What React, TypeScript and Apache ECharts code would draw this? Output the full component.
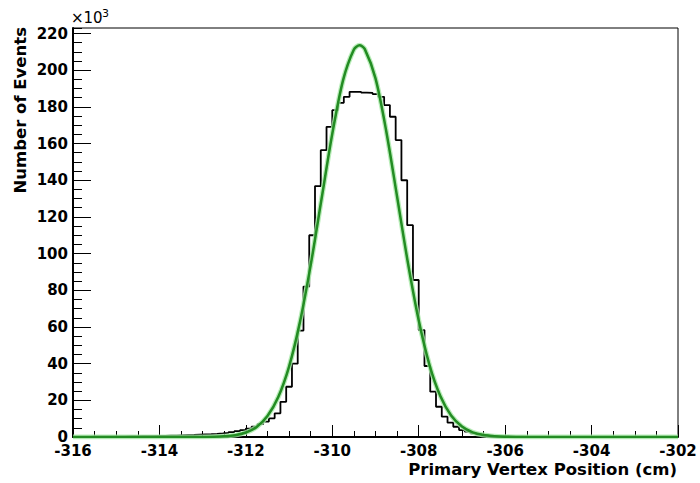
import React, { useEffect, useRef } from "react";
import * as echarts from "echarts";

// Axis ranges
const X_MIN = -316;
const X_MAX = -302;
const Y_MAX = 223; // in thousands of events

// Histogram: bins of 2/15 cm starting at -316 (values in thousands of events)
const binStart = -316;
const binWidth = 2 / 15;
const histCountsK = [
  0.1, 0.1, 0.1, 0.15, 0.15, 0.2, 0.2, 0.25, 0.25, 0.3,
  0.35, 0.4, 0.45, 0.5, 0.55, 0.6, 0.7, 0.8, 0.9, 1.0,
  1.1, 1.25, 1.4, 1.55, 1.75, 2.0, 2.3, 2.7, 3.2, 3.8,
  4.6, 5.6, 7.0, 8.4, 10.2, 12.9, 19.2, 27.4, 40.0, 58.0,
  82.0, 110.0, 136.8, 156.4, 169.1, 178.2, 182.2, 185.5, 188.2, 188.2,
  187.8, 187.6, 187.0, 185.5, 181.0, 174.6, 161.9, 140.0, 115.5, 85.6,
  58.3, 38.7, 24.7, 16.5, 11.1, 7.8, 5.6, 3.8, 2.9, 2.0,
  1.4, 1.0, 0.7, 0.5, 0.35, 0.25, 0.2, 0.15, 0.1, 0.1,
  0.05, 0.05, 0.05, 0.05, 0.05, 0.05, 0.05, 0.05, 0.05, 0.05,
  0.05, 0.05, 0.05, 0, 0, 0, 0, 0, 0, 0,
  0, 0, 0, 0, 0,
];

// Gaussian fit curve (x in cm, y in thousands)
const fitX = [
  -316, -315, -314, -313.5, -313, -312.75, -312.5, -312.25, -312, -311.75,
  -311.5, -311.25, -311, -310.75, -310.5, -310.25, -310, -309.75, -309.5, -309.37,
  -309.25, -309, -308.75, -308.5, -308.25, -308, -307.75, -307.5, -307.25, -307,
  -306.75, -306.5, -306.25, -306, -305.75, -305, -304, -302,
];
const fitY = [
  0, 0, 0, 0.01, 0.04, 0.13, 0.38, 1.01, 2.45, 5.5,
  11.4, 21.8, 38.4, 62.5, 93.7, 129.6, 165.3, 194.6, 211.3, 213.6,
  211.6, 195.5, 166.6, 131.0, 95.0, 63.6, 39.2, 22.3, 11.7, 5.7,
  2.54, 1.05, 0.4, 0.14, 0.04, 0, 0, 0,
];

const xTitle = "Primary Vertex Position (cm)";
const yTitle = "Number of Events";

const FONT = "DejaVu Sans";

export default function App() {
  const ref = useRef<HTMLDivElement>(null);

  useEffect(() => {
    document.body.style.margin = "0";
    if (!ref.current) return;
    const chart = echarts.init(ref.current, undefined, { renderer: "svg" });

    const histData: [number, number][] = histCountsK.map((v, i) => [
      binStart + i * binWidth,
      v,
    ]);
    histData.push([X_MAX, histCountsK[histCountsK.length - 1]]);
    const fitData = fitX.map((x, i) => [x, fitY[i]]);

    const grid = { left: 73, right: 22, top: 28, bottom: 46 };

    chart.setOption({
      animation: false,
      backgroundColor: "#ffffff",
      grid: {
        ...grid,
        show: true,
        borderColor: "#000",
        borderWidth: 1,
        backgroundColor: "transparent",
      },
      xAxis: [
        {
          type: "value",
          min: X_MIN,
          max: X_MAX,
          interval: 2,
          axisLine: { show: true, onZero: false, lineStyle: { color: "#000", width: 2 } },
          axisTick: { show: true, inside: true, length: 12, lineStyle: { color: "#000", width: 1 } },
          minorTick: { show: true, splitNumber: 4, length: 6, lineStyle: { color: "#000", width: 1 } },
          splitLine: { show: false },
          axisLabel: {
            color: "#000",
            fontFamily: FONT,
            fontWeight: "bold",
            fontSize: 15,
            margin: 6,
          },
        },
      ],
      yAxis: [
        {
          type: "value",
          min: 0,
          max: Y_MAX,
          interval: 20,
          axisLine: { show: true, onZero: false, lineStyle: { color: "#000", width: 2 } },
          axisTick: { show: true, inside: true, length: 18, lineStyle: { color: "#000", width: 1 } },
          splitLine: { show: false },
          axisLabel: {
            color: "#000",
            fontFamily: FONT,
            fontWeight: "bold",
            fontSize: 15,
            margin: 5,
            showMaxLabel: false,
          },
        },
        {
          type: "value",
          position: "left",
          min: 0,
          max: Y_MAX,
          interval: 5,
          axisLine: { show: false },
          axisTick: { show: true, inside: true, length: 9, lineStyle: { color: "#000", width: 1 } },
          splitLine: { show: false },
          axisLabel: { show: false },
        },
      ],
      series: [
        {
          type: "line",
          name: "histogram",
          data: histData,
          step: "end",
          showSymbol: false,
          symbol: "none",
          lineStyle: { color: "#000", width: 1.8 },
          z: 2,
        },
        {
          type: "line",
          name: "fit-glow",
          data: fitData,
          smooth: 0.3,
          showSymbol: false,
          symbol: "none",
          lineStyle: { color: "#a8e8a8", width: 5, opacity: 0.8 },
          z: 3,
        },
        {
          type: "line",
          name: "fit",
          data: fitData,
          smooth: 0.3,
          showSymbol: false,
          symbol: "none",
          lineStyle: { color: "#238c23", width: 2.5 },
          z: 4,
        },
      ],
      graphic: [
        {
          type: "text",
          x: 20,
          y: 27,
          rotation: Math.PI / 2,
          style: {
            text: yTitle,
            font: `bold 16.5px "${FONT}"`,
            fill: "#000",
            align: "right",
            verticalAlign: "middle",
          },
        },
        {
          type: "text",
          x: 677,
          y: 469,
          style: {
            text: xTitle,
            font: `bold 16.5px "${FONT}"`,
            fill: "#000",
            align: "right",
            verticalAlign: "middle",
          },
        },
        {
          type: "text",
          x: 71,
          y: 18,
          style: {
            text: "×10",
            font: `15px "${FONT}"`,
            fill: "#000",
            align: "left",
            verticalAlign: "middle",
          },
        },
        {
          type: "text",
          x: 102,
          y: 13,
          style: {
            text: "3",
            font: `11px "${FONT}"`,
            fill: "#000",
            align: "left",
            verticalAlign: "middle",
          },
        },
      ],
    });

    return () => chart.dispose();
  }, []);

  return <div ref={ref} style={{ width: 700, height: 483 }} />;
}
